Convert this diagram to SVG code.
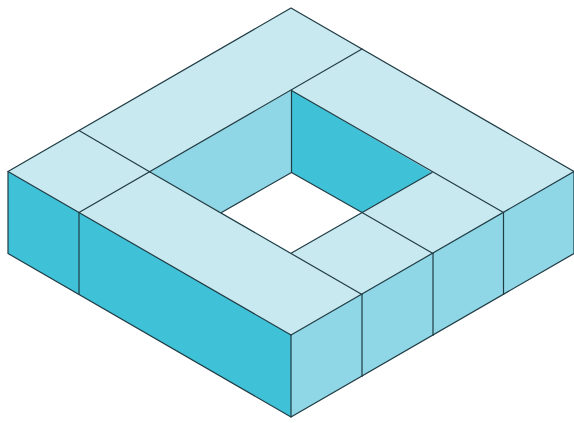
<svg xmlns="http://www.w3.org/2000/svg" width="574" height="423" viewBox="0 0 574 423">
<style>
.t{fill:#c9e9f1}.m{fill:#8fd6e6}.d{fill:#3fc1d8}.f{fill:#fff}
polygon{stroke:none}
line,.o{stroke:#203c44;stroke-width:1.2;fill:none;stroke-linecap:round;stroke-linejoin:round}
</style>
<rect width="574" height="423" fill="#fff"/>
<g id="top-face"><polygon class="t" points="291,8 574,171.5 291,335 8,171.5"/></g>
<g id="left-wall"><polygon class="d" points="8,171.5 291,335 291,417 8,253.5"/></g>
<g id="right-wall"><polygon class="m" points="291,335 574,171.5 574,253.5 291,417"/></g>
<g id="hole">
<polygon class="m" points="150,172 291.5,90.5 291.5,172.5 221.5,212.5"/>
<polygon class="d" points="291.5,90.5 432,172.5 362,212.5 291.5,172.5"/>
<polygon class="f" points="291.5,172.5 362,212.5 291.5,253 221.5,212.5"/>
</g>
<g id="edges">
<polygon class="o" points="291,8 574,171.5 574,253.5 291,417 8,253.5 8,171.5"/>
<line x1="8" y1="171.5" x2="291" y2="335"/>
<line x1="291" y1="335" x2="574" y2="171.5"/>
<line x1="291" y1="335" x2="291" y2="417"/>
<line x1="79" y1="212.5" x2="79" y2="294.5"/>
<line x1="362" y1="294.5" x2="362" y2="376.5"/>
<line x1="433" y1="253.5" x2="433" y2="335.5"/>
<line x1="503.5" y1="212.5" x2="503.5" y2="294.5"/>
<line x1="79" y1="130.5" x2="150" y2="172"/>
<line x1="79" y1="212.5" x2="362" y2="49"/>
<line x1="150" y1="172" x2="362" y2="294.5"/>
<line x1="291.5" y1="90.5" x2="503.5" y2="212.5"/>
<line x1="291.5" y1="90.5" x2="291.5" y2="172.5"/>
<line x1="291.5" y1="172.5" x2="221.5" y2="212.5"/>
<line x1="291.5" y1="172.5" x2="362" y2="212.5"/>
<line x1="432" y1="172.5" x2="291.5" y2="253"/>
<line x1="362" y1="212.5" x2="433" y2="253.5"/>
</g>
</svg>
